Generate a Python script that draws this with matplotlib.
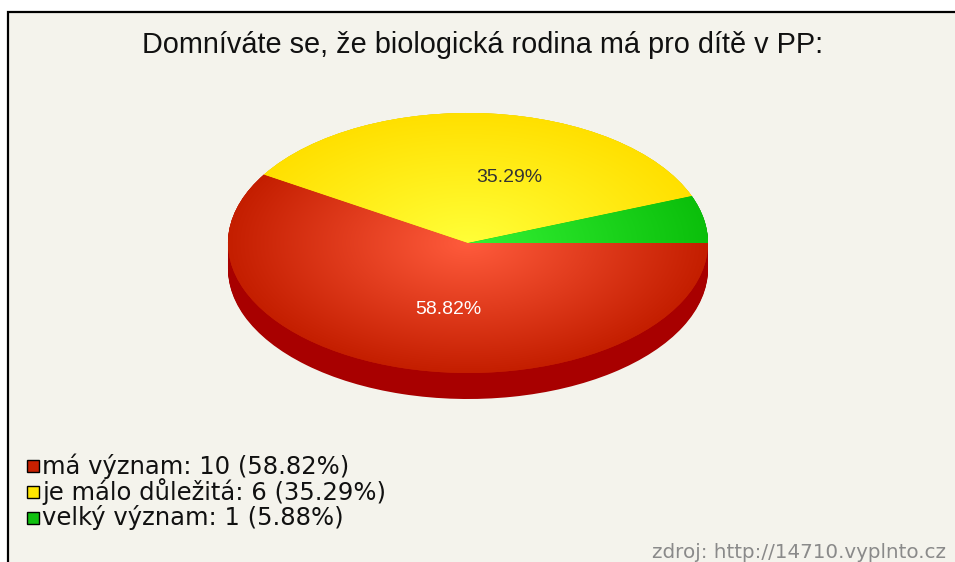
import numpy as np
import matplotlib.pyplot as plt
from matplotlib.patches import Rectangle
from matplotlib.colors import to_rgb

# Survey answers
labels = ["má význam", "je málo důležitá", "velký význam"]
counts = [10, 6, 1]
title = "Domníváte se, že biologická rodina má pro dítě v PP:"
source = "zdroj: http://14710.vyplnto.cz"

# colours: lit centre, rim, and the side of the 3d disc
inner_colors = ["#ff5b3c", "#ffff38", "#34f234"]
outer_colors = ["#c41e00", "#ffe000", "#0bbf0b"]
side_colors = ["#a80000", "#c8a800", "#078a07"]
legend_colors = ["#c82000", "#ffe600", "#10c010"]
bg = "#f4f3ec"

total = sum(counts)
pcts = [100 * c / total for c in counts]

fig = plt.figure(figsize=(9.55, 5.62), dpi=100)
fig.patch.set_facecolor("white")
W, H = 955, 562

# framed panel
fig.patches.append(Rectangle((8 / W, -0.05), 1.2, (H - 12) / H + 0.05,
                             transform=fig.transFigure, facecolor=bg,
                             edgecolor="black", lw=1.6, zorder=-5))

fig.text(483 / W, 1 - 45 / H, title, ha="center", va="center",
         fontsize=20.8, family="Liberation Sans", color="#111111")

# pie axes, squashed into an ellipse
ax = fig.add_axes([216 / W, 150 / H, 504 / W, 312 / H])
ax.set_zorder(2)
depth = 0.2
for dy in np.linspace(-depth, 0, 30):
    ax.pie(counts, colors=side_colors, startangle=0, counterclock=False,
           center=(0, dy), wedgeprops=dict(linewidth=0))

wedges, _ = ax.pie(counts, colors=outer_colors, startangle=0,
                   counterclock=False, wedgeprops=dict(linewidth=0))

# radial shading on the top face
gx, gy = np.meshgrid(np.linspace(-1, 1, 400), np.linspace(-1, 1, 400))
r = np.clip(np.hypot(gx, gy), 0, 1)[..., None]
for w, ci, co in zip(wedges, inner_colors, outer_colors):
    img = np.array(to_rgb(ci)) * (1 - r) + np.array(to_rgb(co)) * r
    im = ax.imshow(img, extent=(-1, 1, -1, 1), origin="lower",
                   aspect="auto", zorder=3, interpolation="bilinear")
    im.set_clip_path(w)

ax.text(0.17, 0.5, f"{pcts[1]:.2f}%", ha="center", va="center",
        fontsize=14, family="Liberation Sans", color="#333333", zorder=5)
ax.text(-0.08, -0.515, f"{pcts[0]:.2f}%", ha="center", va="center",
        fontsize=14, family="Liberation Sans", color="white", zorder=5)

ax.set_aspect("auto")
ax.set_xlim(-1.05, 1.05)
ax.set_ylim(-1.3, 1.1)
ax.axis("off")

# legend
for i, (lab, c, col) in enumerate(zip(labels, counts, legend_colors)):
    y = 1 - (466 + 26 * i) / H
    fig.patches.append(Rectangle((27 / W, y - 6 / H), 12 / W, 12 / H,
                                 transform=fig.transFigure, facecolor=col,
                                 edgecolor="black", lw=1.0))
    fig.text(42 / W, y, f"{lab}: {c} ({pcts[i]:.2f}%)", ha="left",
             va="center", fontsize=17.5, family="DejaVu Sans", color="#111111")

fig.text(946 / W, 1 - 552 / H, source, ha="right", va="center",
         fontsize=14.3, family="DejaVu Sans", color="#8a8a8a")

fig.savefig("out.png", dpi=100, facecolor=fig.get_facecolor())
